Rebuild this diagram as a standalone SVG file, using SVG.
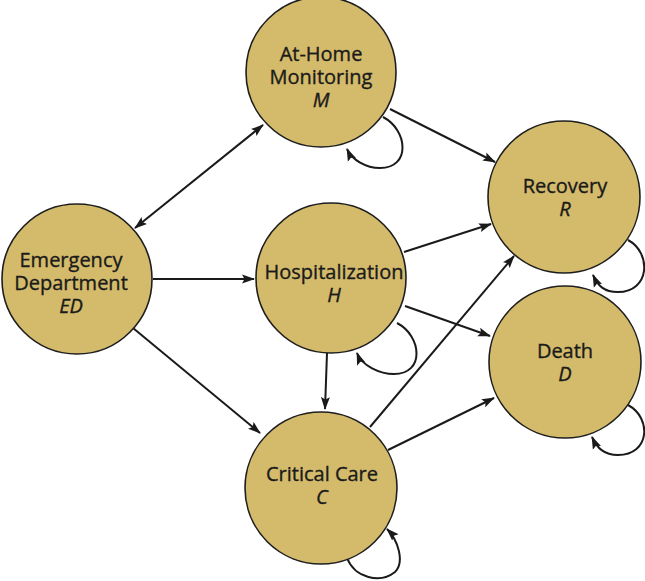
<svg xmlns="http://www.w3.org/2000/svg" width="645" height="581" viewBox="0 0 645 581">
<style>
.node{fill:#d4bb6b;stroke:#1e1e1e;stroke-width:1.6}
.lbl{font-family:"Open Sans","Noto Sans",sans-serif;font-size:20px;fill:#1a1a1a;stroke:#1a1a1a;stroke-width:0.35;text-anchor:middle}
.it{font-style:italic}
.edge{fill:none;stroke:#1a1a1a;stroke-width:2;marker-end:url(#ah)}
</style>
<defs>
<marker id="ah" markerUnits="userSpaceOnUse" markerWidth="13" markerHeight="10" refX="12" refY="4.5" orient="auto-start-reverse" viewBox="0 0 13 9">
<path d="M0,0 L13,4.5 L0,9 L2.5,4.5 z" fill="#1a1a1a"/>
</marker>
</defs>
<g id="connectors">
<path class="edge" d="M135,228 L263,125" marker-start="url(#ah)"/>
<path class="edge" d="M153,279 L254,279"/>
<path class="edge" d="M133,328 L260,433"/>
<path class="edge" d="M390,109 L495,162"/>
<path class="edge" d="M404,252 L491,224"/>
<path class="edge" d="M405,306 L490,336"/>
<path class="edge" d="M327,353 L325,409"/>
<path class="edge" d="M370,427 L514,256"/>
<path class="edge" d="M388,450 L494,398"/>
<path class="edge" d="M383,117 C408,130 411,168 380,168 C366,168 352,160 347,149"/>
<path class="edge" d="M397,323 C422,336 425,374 394,374 C380,374 362,366 357,353"/>
<path class="edge" d="M628,240 C652,253 650,292 618,292 C604,292 598,286 593,275"/>
<path class="edge" d="M628,405 C652,418 650,455 618,455 C604,455 597,448 592,437"/>
<path class="edge" d="M347,558 C355,578 380,584 395,572 C405,562 398,540 387,529"/>
</g>
<g id="node-M">
<circle class="node" cx="321" cy="72" r="75"/>
<text class="lbl"><tspan x="321" y="61">At-Home</tspan><tspan x="321" y="84">Monitoring</tspan><tspan class="it" x="321" y="107">M</tspan></text>
</g>
<g id="node-ED">
<circle class="node" cx="77" cy="279" r="75"/>
<text class="lbl"><tspan x="71" y="267">Emergency</tspan><tspan x="71" y="290">Department</tspan><tspan class="it" x="71" y="313">ED</tspan></text>
</g>
<g id="node-H">
<circle class="node" cx="331" cy="278" r="75"/>
<text class="lbl"><tspan x="334" y="279">Hospitalization</tspan><tspan class="it" x="334" y="302">H</tspan></text>
</g>
<g id="node-R">
<circle class="node" cx="564" cy="197" r="76"/>
<text class="lbl"><tspan x="565" y="193">Recovery</tspan><tspan class="it" x="565" y="216">R</tspan></text>
</g>
<g id="node-D">
<circle class="node" cx="565" cy="362" r="76"/>
<text class="lbl"><tspan x="565" y="358">Death</tspan><tspan class="it" x="565" y="381">D</tspan></text>
</g>
<g id="node-C">
<circle class="node" cx="321" cy="488" r="76"/>
<text class="lbl"><tspan x="322" y="481">Critical Care</tspan><tspan class="it" x="322" y="504">C</tspan></text>
</g>
</svg>
